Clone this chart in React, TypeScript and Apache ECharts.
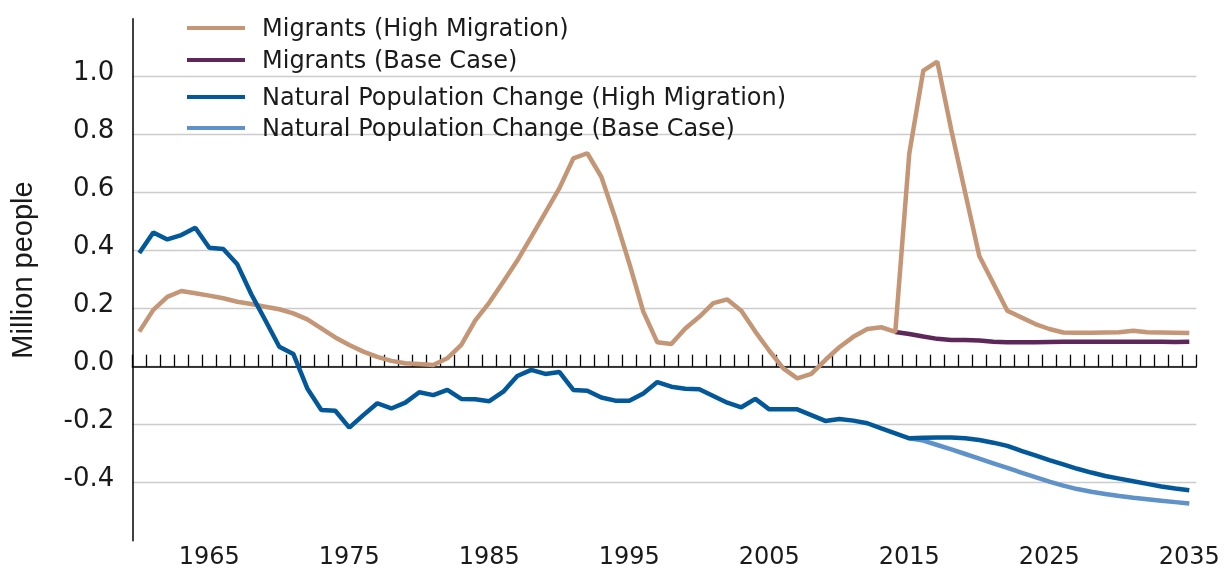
import React, { useEffect, useRef } from "react";
import * as echarts from "echarts";

const years: string[] = [];
for (let y = 1960; y <= 2035; y++) years.push(String(y));

// 1960–2035
const migrantsHigh = [
  0.121, 0.196, 0.241, 0.261, 0.253, 0.245, 0.236, 0.224, 0.216, 0.207,
  0.198, 0.184, 0.163, 0.132, 0.101, 0.075, 0.052, 0.034, 0.02, 0.012,
  0.009, 0.006, 0.029, 0.075, 0.16, 0.221, 0.293, 0.366, 0.448, 0.531,
  0.615, 0.718, 0.736, 0.655, 0.512, 0.356, 0.19, 0.084, 0.078, 0.132,
  0.172, 0.219, 0.232, 0.193, 0.121, 0.055, -0.006, -0.04, -0.025, 0.023,
  0.067, 0.103, 0.13, 0.136, 0.12, 0.736, 1.021, 1.052, 0.816, 0.598,
  0.382, 0.288, 0.193, 0.17, 0.147, 0.13, 0.118, 0.117, 0.117, 0.118,
  0.119, 0.124, 0.119, 0.118, 0.117, 0.116,
];

// 2014–2035
const migrantsBaseStart = 2014;
const migrantsBase = [
  0.12, 0.113, 0.104, 0.096, 0.092, 0.092, 0.09, 0.086, 0.084, 0.084,
  0.084, 0.085, 0.086, 0.086, 0.086, 0.086, 0.086, 0.086, 0.086, 0.086,
  0.085, 0.086,
];

// 1960–2035
const naturalHigh = [
  0.392, 0.463, 0.439, 0.454, 0.479, 0.41, 0.406, 0.353, 0.25, 0.16,
  0.069, 0.044, -0.075, -0.149, -0.152, -0.21, -0.167, -0.126, -0.144, -0.124,
  -0.088, -0.098, -0.08, -0.111, -0.112, -0.119, -0.086, -0.032, -0.011, -0.025,
  -0.018, -0.08, -0.083, -0.106, -0.117, -0.117, -0.092, -0.053, -0.069, -0.076,
  -0.078, -0.101, -0.124, -0.14, -0.111, -0.147, -0.147, -0.147, -0.167, -0.187,
  -0.18, -0.186, -0.195, -0.213, -0.23, -0.247, -0.245, -0.244, -0.244, -0.247,
  -0.253, -0.262, -0.273, -0.29, -0.306, -0.322, -0.337, -0.352, -0.365, -0.377,
  -0.386, -0.395, -0.404, -0.413, -0.42, -0.426,
];

// 2015–2035
const naturalBaseStart = 2015;
const naturalBase = [
  -0.247, -0.255, -0.27, -0.285, -0.301, -0.317, -0.333, -0.349, -0.365, -0.381,
  -0.396, -0.41, -0.422, -0.431, -0.439, -0.446, -0.452, -0.457, -0.462, -0.467,
  -0.472,
];

const seriesNames = [
  "Migrants (High Migration)",
  "Migrants (Base Case)",
  "Natural Population Change (High Migration)",
  "Natural Population Change (Base Case)",
];
const colors = ["#C49676", "#5E2759", "#03589A", "#5F92C9"];
const legendTops = [9, 41, 78, 109];

function pad(start: number, arr: number[]) {
  const out: (number | null)[] = [];
  for (let i = 0; i < start - 1960; i++) out.push(null);
  return out.concat(arr);
}

const FONT = "DejaVu Sans";
const TEXT = "#1a1a1a";

export default function App() {
  const ref = useRef<HTMLDivElement>(null);
  useEffect(() => {
    if (!ref.current) return;
    const chart = echarts.init(ref.current, null, { renderer: "svg" });
    const datas = [
      migrantsHigh,
      pad(migrantsBaseStart, migrantsBase),
      naturalHigh,
      pad(naturalBaseStart, naturalBase),
    ];
    const zs = [4, 3, 4, 3];
    chart.setOption({
      animation: false,
      grid: { left: 132.3, right: 28.7, top: 18.7, bottom: 29.3, containLabel: false },
      legend: seriesNames.map((n, i) => ({
        data: [n],
        left: 182,
        top: legendTops[i],
        orient: "vertical",
        itemWidth: 58,
        itemHeight: 4,
        icon: "rect",
        itemStyle: { color: colors[i] },
        selectedMode: false,
        textStyle: {
          fontFamily: FONT,
          fontSize: 24,
          color: TEXT,
          lineHeight: 28,
          padding: [0, 0, 0, 12],
        },
      })),
      xAxis: [
        {
          type: "category",
          data: years,
          boundaryGap: true,
          position: "bottom",
          axisLine: { show: false, onZero: false },
          axisTick: { show: false },
          splitLine: { show: false },
          axisLabel: {
            interval: (_i: number, v: string) => Number(v) % 10 === 5,
            fontFamily: FONT,
            fontSize: 24,
            lineHeight: 24,
            color: TEXT,
            margin: 3,
          },
        },
        {
          type: "category",
          data: years,
          boundaryGap: true,
          position: "top",
          axisLine: { show: true, onZero: true, lineStyle: { color: "#000", width: 1.5 } },
          axisTick: { show: true, inside: false, length: 12, interval: 0, lineStyle: { color: "#000", width: 1.3 } },
          axisLabel: { show: false },
          splitLine: { show: false },
        },
      ],
      yAxis: {
        type: "value",
        min: -0.6,
        max: 1.2,
        interval: 0.2,
        axisLine: { show: true, lineStyle: { color: "#000", width: 1.5 } },
        axisTick: { show: false },
        splitLine: {
          show: true,
          showMinLine: false,
          showMaxLine: false,
          lineStyle: { color: "#cccccc", width: 1.3 },
        },
        axisLabel: {
          fontFamily: FONT,
          fontSize: 26,
          color: TEXT,
          margin: 18,
          verticalAlign: "bottom",
          lineHeight: 12,
          formatter: (v: number) =>
            Math.abs(v - 1.2) < 1e-6 || Math.abs(v + 0.6) < 1e-6 ? "" : v.toFixed(1),
        },
      },
      graphic: [
        {
          type: "text",
          x: 22,
          y: 270,
          rotation: Math.PI / 2,
          style: {
            text: "Million people",
            fontFamily: "Liberation Sans",
            fontSize: 29,
            fill: TEXT,
            textAlign: "center",
            textVerticalAlign: "middle",
          },
        },
      ],
      series: seriesNames.map((n, i) => ({
        name: n,
        type: "line",
        xAxisIndex: 0,
        data: datas[i],
        symbol: "none",
        smooth: false,
        z: zs[i],
        lineStyle: { color: colors[i], width: 4.5 },
        itemStyle: { color: colors[i] },
      })),
    });
    return () => chart.dispose();
  }, []);
  return (
    <div
      ref={ref}
      style={{ position: "fixed", left: 0, top: 0, width: 1225, height: 570 }}
    />
  );
}
